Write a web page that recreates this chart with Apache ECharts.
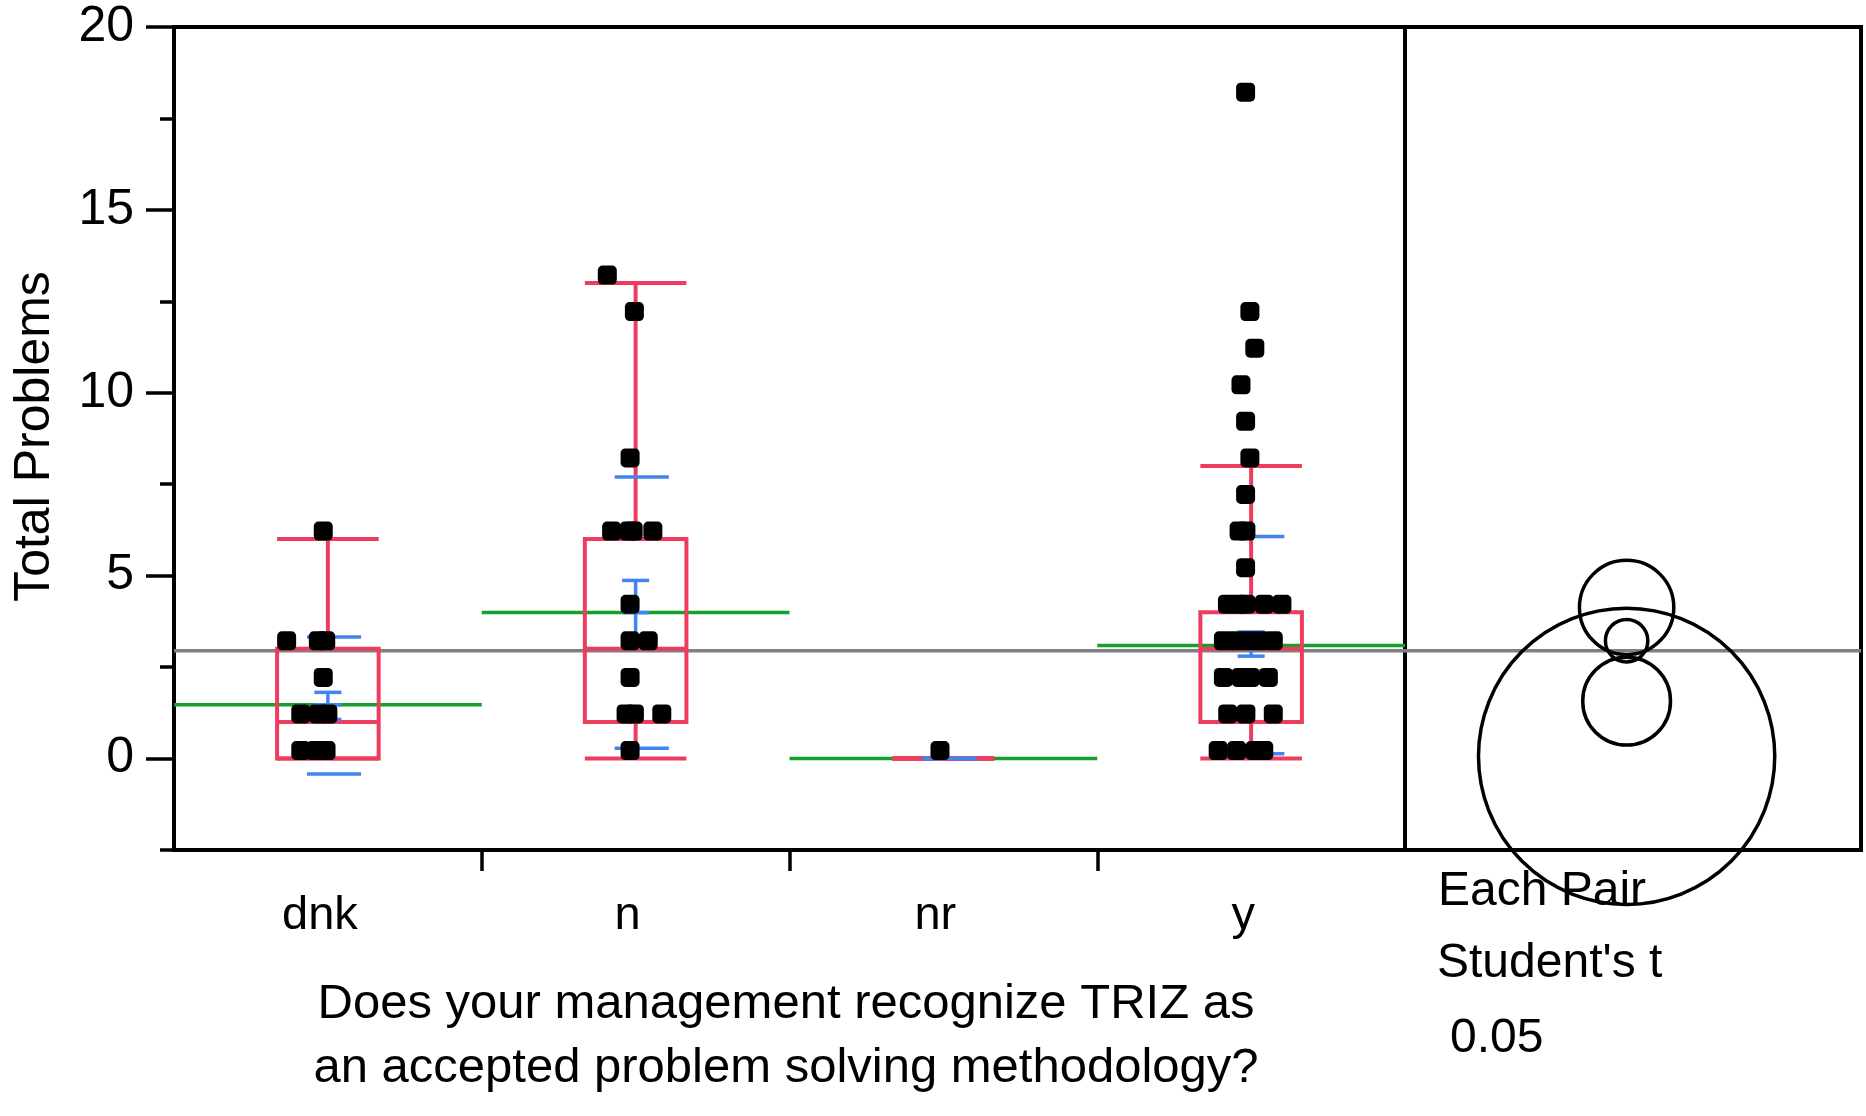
<!DOCTYPE html>
<html>
<head>
<meta charset="utf-8">
<script src="https://cdn.jsdelivr.net/npm/echarts@6/dist/echarts.min.js"></script>
<style>
html,body{margin:0;padding:0;background:#fff;}
#chart{width:1866px;height:1116px;}
</style>
</head>
<body>
<div id="chart"></div>
<script>
// ---- data ----
const categories = ['dnk', 'n', 'nr', 'y'];

const dnkValues = [6, 3, 3, 3, 2, 1, 1, 1, 0, 0, 0];
const dnkJitter = [-0.015, -0.134, -0.031, -0.007, -0.015, -0.088, -0.031, 0, -0.088, -0.039, -0.006];

const nValues = [13, 12, 8, 6, 6, 6, 6, 4, 3, 3, 2, 1, 1, 1, 0];
const nJitter = [-0.092, -0.004, -0.018, -0.078, -0.021, -0.008, 0.056, -0.018, -0.018, 0.041, -0.018, -0.031, -0.004, 0.085, -0.018];

const nrValues = [0];
const nrJitter = [-0.011];

const yValues = [18, 12, 11, 10, 9, 8, 7, 6, 6, 5, 4, 4, 4, 4, 4, 3, 3, 3, 3, 3, 2, 2, 2, 2, 1, 1, 1, 0, 0, 0, 0];
const yJitter = [-0.018, -0.004, 0.012, -0.033, -0.018, -0.004, -0.018, -0.039, -0.017, -0.018,
  -0.077, -0.042, -0.017, 0.043, 0.100, -0.090, -0.049, -0.010, 0.029, 0.072,
  -0.090, -0.032, -0.003, 0.056, -0.076, -0.017, 0.072, -0.107, -0.047, 0.013, 0.041];

// box plot statistics per group
const boxMin    = [0, 0, 0, 0];
const boxQ1     = [0, 1, 0, 1];
const boxMedian = [1, 3, 0, 3];
const boxQ3     = [3, 6, 0, 4];
const boxMax    = [6, 13, 0, 8];

// group means, std-dev lines and mean error bars
const groupMean = [1.47, 3.99, 0, 3.09];
const sdLow     = [-0.42, 0.28, 0, 0.13];
const sdHigh    = [3.32, 7.7, 0, 6.07];
const errLow    = [1.07, 3.11, null, 2.80];
const errHigh   = [1.81, 4.87, null, 3.46];

const grandMean = 2.95;

// comparison circles (Each Pair, Student's t, 0.05)
const circleCenter = [1.57, 4.13, 0.06, 3.22];
const circleRadius = [1.2, 1.29, 4.05, 0.58];

const yMajorTicks = [0, 5, 10, 15, 20];
const yMinorTicks = [-2.5, 2.5, 7.5, 12.5, 17.5];

// ---- styles ----
const RED = '#EE3C5E', BLUE = '#4285F0', GREEN = '#14A02A', GRAY = '#808080';
const FONT = '"Liberation Sans", Arial, sans-serif';
const BOX_HW = 0.165, SD_HW = 0.088, SD_SHIFT = 0.02, ERR_HW = 0.044;

const groupsValues = [dnkValues, nValues, nrValues, yValues];
const groupsJitter = [dnkJitter, nJitter, nrJitter, yJitter];
const points = [];
groupsValues.forEach((vals, gi) => {
  vals.forEach((v, k) => points.push([gi + 0.5 + groupsJitter[gi][k], v]));
});

function seg(a, b, style) {
  return { type: 'line', shape: { x1: a[0], y1: a[1], x2: b[0], y2: b[1] }, style: style };
}

const chart = echarts.init(document.getElementById('chart'), null, { renderer: 'canvas' });

const option = {
  animation: false,
  backgroundColor: '#fff',
  textStyle: { fontFamily: FONT, color: '#000' },
  grid: [
    { left: 174, top: 27, width: 1231, height: 823, show: true, borderColor: '#000', borderWidth: 4, backgroundColor: 'transparent', outerBoundsMode: 'none' },
    { left: 1405, top: 27, width: 456, height: 823, show: true, borderColor: '#000', borderWidth: 4, backgroundColor: 'transparent', outerBoundsMode: 'none' }
  ],
  xAxis: [
    {
      type: 'category', gridIndex: 0, data: categories, boundaryGap: true,
      axisLine: { show: false, onZero: false }, axisTick: { show: false }, splitLine: { show: false },
      axisLabel: { color: '#000', fontSize: 47, fontFamily: FONT, margin: 66, verticalAlign: 'middle', padding: [0, 16, 0, 0] },
      name: 'Does your management recognize TRIZ as\nan accepted problem solving methodology?',
      nameLocation: 'middle', nameGap: 186,
      nameTextStyle: { color: '#000', fontSize: 49, fontFamily: FONT, lineHeight: 64, verticalAlign: 'middle', padding: [0, 7, 0, 0] }
    },
    {
      type: 'value', gridIndex: 0, min: 0, max: 4, interval: 1, position: 'bottom',
      axisLine: { show: false, onZero: false }, splitLine: { show: false },
      axisLabel: { show: false },
      axisTick: { show: true, length: 21, customValues: [1, 2, 3], lineStyle: { color: '#000', width: 3.5 } }
    },
    { type: 'value', gridIndex: 1, min: 0, max: 1, show: false }
  ],
  yAxis: [
    {
      type: 'value', gridIndex: 0, min: -2.5, max: 20, interval: 2.5,
      axisLine: { show: false, onZero: false }, splitLine: { show: false },
      axisTick: { show: true, length: 28, customValues: yMajorTicks, lineStyle: { color: '#000', width: 3.5 } },
      axisLabel: { color: '#000', fontSize: 50, fontFamily: FONT, margin: 40, customValues: yMajorTicks },
      name: 'Total Problems', nameLocation: 'middle', nameGap: 139, nameRotate: 90,
      nameTextStyle: { color: '#000', fontSize: 50, fontFamily: FONT, verticalAlign: 'middle', padding: [0, 0, 0, 4] }
    },
    {
      type: 'value', gridIndex: 0, min: -2.5, max: 20, interval: 2.5, position: 'left',
      axisLine: { show: false, onZero: false }, splitLine: { show: false }, axisLabel: { show: false },
      axisTick: { show: true, length: 14, customValues: yMinorTicks, lineStyle: { color: '#000', width: 3.5 } }
    },
    { type: 'value', gridIndex: 1, min: -2.5, max: 20, show: false }
  ],
  graphic: [
    { type: 'text', left: 1438, top: 868, style: { text: 'Each Pair', fontSize: 48, fontFamily: FONT, fill: '#000' }, z: 1 },
    { type: 'text', left: 1437, top: 940, style: { text: "Student's t", fontSize: 48, fontFamily: FONT, fill: '#000' }, z: 1 },
    { type: 'text', left: 1450, top: 1015, style: { text: '0.05', fontSize: 48, fontFamily: FONT, fill: '#000' }, z: 1 }
  ],
  series: [
    // grand mean line in main plot
    {
      type: 'custom', xAxisIndex: 1, yAxisIndex: 0, clip: false, silent: true,
      data: [[grandMean]], encode: { y: 0 },
      renderItem: function (params, api) {
        const v = api.value(0);
        return seg(api.coord([0, v]), api.coord([4, v]), { stroke: GRAY, lineWidth: 3.5 });
      }
    },
    // grand mean line in circle panel
    {
      type: 'custom', xAxisIndex: 2, yAxisIndex: 2, clip: false, silent: true,
      data: [[grandMean]], encode: { y: 0 },
      renderItem: function (params, api) {
        const v = api.value(0);
        return seg(api.coord([0, v]), api.coord([1, v]), { stroke: GRAY, lineWidth: 3.5 });
      }
    },
    // group mean lines (green)
    {
      type: 'custom', xAxisIndex: 1, yAxisIndex: 0, clip: false, silent: true,
      data: categories.map((c, i) => [i, groupMean[i]]), encode: { x: 0, y: 1 },
      renderItem: function (params, api) {
        const i = api.value(0), m = api.value(1);
        return seg(api.coord([i, m]), api.coord([i + 1, m]), { stroke: GREEN, lineWidth: 3.5 });
      }
    },
    // box plots (red)
    {
      type: 'custom', xAxisIndex: 1, yAxisIndex: 0, clip: false, silent: true,
      data: categories.map((c, i) => [i, boxMin[i], boxQ1[i], boxMedian[i], boxQ3[i], boxMax[i]]),
      encode: { x: 0, y: [1, 2, 3, 4, 5] },
      renderItem: function (params, api) {
        const i = api.value(0), cx = i + 0.5;
        const mn = api.value(1), q1 = api.value(2), md = api.value(3), q3 = api.value(4), mx = api.value(5);
        const st = { stroke: RED, lineWidth: 4, fill: null };
        const tl = api.coord([cx - BOX_HW, q3]), br = api.coord([cx + BOX_HW, q1]);
        return {
          type: 'group',
          children: [
            seg(api.coord([cx, q3]), api.coord([cx, mx]), st),
            seg(api.coord([cx, mn]), api.coord([cx, q1]), st),
            seg(api.coord([cx - BOX_HW, mx]), api.coord([cx + BOX_HW, mx]), st),
            seg(api.coord([cx - BOX_HW, mn]), api.coord([cx + BOX_HW, mn]), st),
            { type: 'rect', shape: { x: tl[0], y: tl[1], width: br[0] - tl[0], height: br[1] - tl[1] }, style: { stroke: RED, lineWidth: 4, fill: 'none' } },
            seg(api.coord([cx - BOX_HW, md]), api.coord([cx + BOX_HW, md]), st)
          ]
        };
      }
    },
    // std dev lines and mean error bars (blue)
    {
      type: 'custom', xAxisIndex: 1, yAxisIndex: 0, clip: false, silent: true,
      data: categories.map((c, i) => [i, sdLow[i], sdHigh[i], errLow[i] == null ? '-' : errLow[i], groupMean[i], errHigh[i] == null ? '-' : errHigh[i]]),
      encode: { x: 0, y: [1, 2] },
      renderItem: function (params, api) {
        const i = api.value(0), cx = i + 0.5, sx = cx + SD_SHIFT;
        const st = { stroke: BLUE, lineWidth: 3.5 };
        const children = [
          seg(api.coord([sx - SD_HW, api.value(1)]), api.coord([sx + SD_HW, api.value(1)]), st),
          seg(api.coord([sx - SD_HW, api.value(2)]), api.coord([sx + SD_HW, api.value(2)]), st)
        ];
        const lo = api.value(3), m = api.value(4), hi = api.value(5);
        if (!isNaN(lo) && !isNaN(hi)) {
          children.push(seg(api.coord([cx, lo]), api.coord([cx, hi]), st));
          children.push(seg(api.coord([cx - ERR_HW, lo]), api.coord([cx + ERR_HW, lo]), st));
          children.push(seg(api.coord([cx - ERR_HW, hi]), api.coord([cx + ERR_HW, hi]), st));
          children.push(seg(api.coord([cx - ERR_HW, m]), api.coord([cx + ERR_HW, m]), st));
        }
        return { type: 'group', children: children };
      }
    },
    // comparison circles
    {
      type: 'custom', xAxisIndex: 2, yAxisIndex: 2, clip: false, silent: true,
      data: circleCenter.map((c, i) => [c, circleRadius[i]]), encode: { y: 0 },
      renderItem: function (params, api) {
        const c = api.coord([0.486, api.value(0)]);
        const r = api.size([0, api.value(1)])[1];
        return { type: 'circle', shape: { cx: c[0], cy: c[1], r: r }, style: { fill: 'none', stroke: '#000', lineWidth: 3.5 } };
      }
    },
    // data points
    {
      type: 'scatter', xAxisIndex: 1, yAxisIndex: 0, data: points,
      symbol: 'roundRect', symbolSize: 19, symbolOffset: [0, -8],
      itemStyle: { color: '#000', opacity: 1 }, silent: true, z: 5
    }
  ]
};
chart.setOption(option);
</script>
</body>
</html>
